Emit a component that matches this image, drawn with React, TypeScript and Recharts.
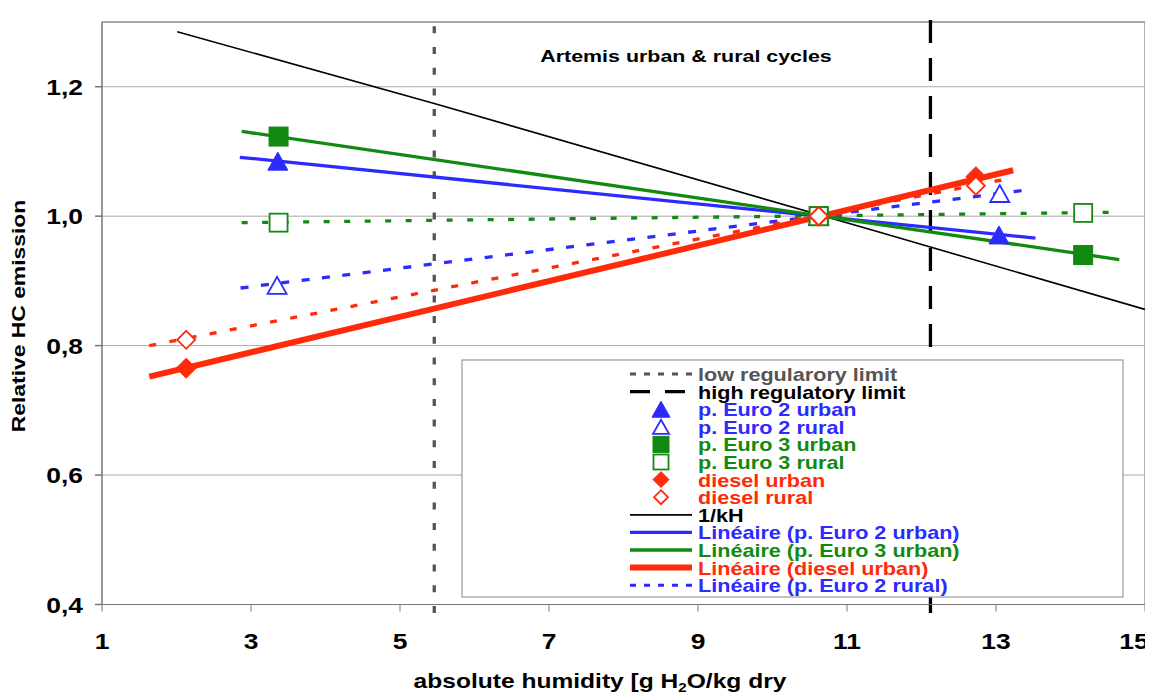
import React from "react";
import {
  ComposedChart,
  Line,
  Scatter,
  XAxis,
  YAxis,
  CartesianGrid,
  ReferenceLine,
} from "recharts";

type Pt = { x: number; y: number };

const xTicks = [1, 3, 5, 7, 9, 11, 13, 15];
const yTicks = [0.4, 0.6, 0.8, 1.0, 1.2];

// measured points (relative HC emission vs absolute humidity)
const euro2Urban: Pt[] = [
  { x: 3.36, y: 1.085 },
  { x: 10.62, y: 1.0 },
  { x: 13.04, y: 0.971 },
];
const euro2Rural: Pt[] = [
  { x: 3.35, y: 0.893 },
  { x: 10.62, y: 1.0 },
  { x: 13.05, y: 1.035 },
];
const euro3Urban: Pt[] = [
  { x: 3.37, y: 1.123 },
  { x: 10.62, y: 1.0 },
  { x: 14.17, y: 0.94 },
];
const euro3Rural: Pt[] = [
  { x: 3.37, y: 0.99 },
  { x: 10.62, y: 1.0 },
  { x: 14.17, y: 1.005 },
];
const dieselUrban: Pt[] = [
  { x: 2.13, y: 0.765 },
  { x: 10.62, y: 1.0 },
  { x: 12.73, y: 1.061 },
];
const dieselRural: Pt[] = [
  { x: 2.13, y: 0.809 },
  { x: 10.62, y: 1.0 },
  { x: 12.73, y: 1.047 },
];

// trend lines
const linEuro2Urban: Pt[] = [
  { x: 2.85, y: 1.091 },
  { x: 13.53, y: 0.966 },
];
const linEuro3Urban: Pt[] = [
  { x: 2.875, y: 1.131 },
  { x: 14.655, y: 0.933 },
];
const linDieselUrban: Pt[] = [
  { x: 1.635, y: 0.752 },
  { x: 13.23, y: 1.071 },
];
const linEuro2Rural: Pt[] = [
  { x: 2.86, y: 0.889 },
  { x: 13.39, y: 1.04 },
];
const linEuro3Rural: Pt[] = [
  { x: 2.875, y: 0.99 },
  { x: 14.6, y: 1.006 },
];
const linDieselRural: Pt[] = [
  { x: 1.635, y: 0.8 },
  { x: 13.13, y: 1.057 },
];
const invKH: Pt[] = [
  { x: 2.01, y: 1.285 },
  { x: 5.46, y: 1.174 },
  { x: 11.44, y: 0.975 },
  { x: 15, y: 0.856 },
];

const lowLimit = 5.46;
const highLimit = 12.12;

const BLUE = "#2b2bff";
const GREEN = "#128a12";
const RED = "#ff2a0a";
const GRAY = "#555555";
const FONT = "'Liberation Sans', Arial, sans-serif";

type Kind = "tri" | "sq" | "dia";

function Marker({ cx, cy, kind, color, filled, s }: { cx: number; cy: number; kind: Kind; color: string; filled: boolean; s: number }) {
  const h = s / 2;
  const fill = filled ? color : "#ffffff";
  const sw = filled ? 1 : 1.8;
  if (kind === "tri") {
    return <polygon points={`${cx},${cy - h} ${cx + h + 1},${cy + h} ${cx - h - 1},${cy + h}`} fill={fill} stroke={color} strokeWidth={sw} />;
  }
  if (kind === "sq") {
    return <rect x={cx - h} y={cy - h} width={s} height={s} fill={fill} stroke={color} strokeWidth={sw} />;
  }
  return <polygon points={`${cx},${cy - h} ${cx + h},${cy} ${cx},${cy + h} ${cx - h},${cy}`} fill={fill} stroke={color} strokeWidth={sw} />;
}

const shape = (kind: Kind, color: string, filled: boolean, s: number) => (p: any) =>
  <Marker cx={p.cx} cy={p.cy} kind={kind} color={color} filled={filled} s={s} />;

const XTick = ({ x, y, payload }: any) => {
  // last label is pulled in so it stays inside the page
  const shift = payload.value === 15 ? -11 : 0;
  return (
    <g transform={`translate(${x + shift},${y + 35.5}) scale(1.2,1)`}>
      <text x={0} y={0} textAnchor="middle" fontFamily={FONT} fontWeight="bold" fontSize={22} fill="#000">
        {payload.value}
      </text>
    </g>
  );
};

const YTick = ({ x, y, payload }: any) => (
  <g transform={`translate(${x},${y + 8}) scale(1.2,1)`}>
    <text x={0} y={0} textAnchor="end" fontFamily={FONT} fontWeight="bold" fontSize={22} fill="#000">
      {payload.value.toFixed(1).replace(".", ",")}
    </text>
  </g>
);

type LegendItem = { label: string; color: string; sample: string };
const legendItems: LegendItem[] = [
  { label: "low regularory limit", color: GRAY, sample: "low" },
  { label: "high regulatory limit", color: "#000", sample: "high" },
  { label: "p. Euro 2 urban", color: BLUE, sample: "triF" },
  { label: "p. Euro 2 rural", color: BLUE, sample: "triO" },
  { label: "p. Euro 3 urban", color: GREEN, sample: "sqF" },
  { label: "p. Euro 3 rural", color: GREEN, sample: "sqO" },
  { label: "diesel urban", color: RED, sample: "diaF" },
  { label: "diesel rural", color: RED, sample: "diaO" },
  { label: "1/kH", color: "#000", sample: "kh" },
  { label: "Linéaire (p. Euro 2 urban)", color: BLUE, sample: "lin" },
  { label: "Linéaire (p. Euro 3 urban)", color: GREEN, sample: "lin" },
  { label: "Linéaire (diesel urban)", color: RED, sample: "linThick" },
  { label: "Linéaire (p. Euro 2 rural)", color: BLUE, sample: "dot" },
];

function LegendSample({ item, cy }: { item: LegendItem; cy: number }) {
  const x1 = 622;
  const x2 = 684;
  const mx = 653;
  switch (item.sample) {
    case "low":
      return <line x1={x1} x2={x2} y1={cy} y2={cy} stroke={GRAY} strokeWidth={3} strokeDasharray="6 8" />;
    case "high":
      return <line x1={x1} x2={x2} y1={cy} y2={cy} stroke="#000" strokeWidth={3.3} strokeDasharray="20 15" />;
    case "triF":
      return <Marker cx={mx} cy={cy} kind="tri" color={BLUE} filled s={16} />;
    case "triO":
      return <Marker cx={mx} cy={cy} kind="tri" color={BLUE} filled={false} s={14} />;
    case "sqF":
      return <Marker cx={mx} cy={cy} kind="sq" color={GREEN} filled s={16} />;
    case "sqO":
      return <Marker cx={mx} cy={cy} kind="sq" color={GREEN} filled={false} s={15} />;
    case "diaF":
      return <Marker cx={mx} cy={cy} kind="dia" color={RED} filled s={16} />;
    case "diaO":
      return <Marker cx={mx} cy={cy} kind="dia" color={RED} filled={false} s={14} />;
    case "kh":
      return <line x1={x1} x2={x2} y1={cy} y2={cy} stroke="#000" strokeWidth={1.8} />;
    case "lin":
      return <line x1={x1} x2={x2} y1={cy} y2={cy} stroke={item.color} strokeWidth={3.3} />;
    case "linThick":
      return <line x1={x1} x2={x2} y1={cy} y2={cy} stroke={item.color} strokeWidth={6} />;
    default:
      return <line x1={x1} x2={x2} y1={cy} y2={cy} stroke={item.color} strokeWidth={3} strokeDasharray="6 8" />;
  }
}

function Overlay() {
  return (
    <svg width={1145} height={688} style={{ position: "absolute", left: 0, top: 0, pointerEvents: "none" }}>
      <defs>
        <clipPath id="lgclip">
          <rect x={454} y={352} width={661} height={237} />
        </clipPath>
      </defs>
      <g transform="translate(678,54) scale(1.26,1)">
        <text textAnchor="middle" fontFamily={FONT} fontWeight="bold" fontSize={17} fill="#000">
          Artemis urban &amp; rural cycles
        </text>
      </g>
      <g transform="translate(17,308) rotate(-90) scale(1.27,1)">
        <text textAnchor="middle" fontFamily={FONT} fontWeight="bold" fontSize={18} fill="#000">
          Relative HC emission
        </text>
      </g>
      <g transform="translate(592,680) scale(1.26,1)">
        <text textAnchor="middle" fontFamily={FONT} fontWeight="bold" fontSize={19.5} fill="#000">
          absolute humidity [g H<tspan fontSize={12} dy={4}>2</tspan>
          <tspan dy={-4}>O/kg dry</tspan>
        </text>
      </g>
      <rect x={454} y={352} width={661} height={237} fill="#fff" stroke="#999" strokeWidth={1.2} />
      <g clipPath="url(#lgclip)">
        {legendItems.map((it, i) => {
          const cy = 366 + i * 17.6;
          return (
            <g key={it.label}>
              <LegendSample item={it} cy={cy} />
              <g transform={`translate(690,${cy + 7}) scale(1.2,1)`}>
                <text fontFamily={FONT} fontWeight="bold" fontSize={18} fill={it.color}>
                  {it.label}
                </text>
              </g>
            </g>
          );
        })}
      </g>
    </svg>
  );
}

export default function App() {
  return (
    <div style={{ position: "relative", width: 1145, height: 688, background: "#fff" }}>
      <ComposedChart
        width={1145}
        height={688}
        margin={{ top: 14, right: 8, bottom: 31.5, left: 0 }}
        style={{ overflow: "visible" }}
      >
        <CartesianGrid vertical={false} stroke="#a8a8a8" strokeWidth={1} />
        <XAxis
          type="number"
          dataKey="x"
          domain={[1, 15]}
          ticks={xTicks}
          interval={0}
          height={60}
          stroke="#777"
          tickSize={7}
          tickMargin={2}
          tick={<XTick />}
        />
        <YAxis
          type="number"
          domain={[0.4, 1.3]}
          ticks={yTicks}
          interval={0}
          width={94}
          stroke="#777"
          strokeWidth={1.5}
          tickSize={7}
          tickMargin={12}
          tick={<YTick />}
        />
        <ReferenceLine y={1.3} stroke="#999" strokeWidth={1.5} />
        <ReferenceLine x={15} stroke="#999" strokeWidth={1.5} />
        <ReferenceLine
          segment={[{ x: lowLimit, y: 0.387 }, { x: lowLimit, y: 1.312 }]}
          ifOverflow="visible"
          stroke={GRAY}
          strokeWidth={3.3}
          strokeDasharray="7 13.7"
        />
        <ReferenceLine
          segment={[{ x: highLimit, y: 0.387 }, { x: highLimit, y: 1.313 }]}
          ifOverflow="visible"
          stroke="#000"
          strokeWidth={3.3}
          strokeDasharray="23 15"
        />
        <Line data={invKH} dataKey="y" type="linear" stroke="#000" strokeWidth={1.6} dot={false} isAnimationActive={false} />
        <Line data={linEuro3Rural} dataKey="y" type="linear" stroke={GREEN} strokeWidth={3.3} strokeDasharray="6 14.5" dot={false} isAnimationActive={false} />
        <Line data={linEuro2Rural} dataKey="y" type="linear" stroke={BLUE} strokeWidth={3.3} strokeDasharray="8 12.5" dot={false} isAnimationActive={false} />
        <Line data={linDieselRural} dataKey="y" type="linear" stroke={RED} strokeWidth={3.3} strokeDasharray="7 13.5" dot={false} isAnimationActive={false} />
        <Line data={linEuro2Urban} dataKey="y" type="linear" stroke={BLUE} strokeWidth={3.3} dot={false} isAnimationActive={false} />
        <Line data={linEuro3Urban} dataKey="y" type="linear" stroke={GREEN} strokeWidth={3.3} dot={false} isAnimationActive={false} />
        <Line data={linDieselUrban} dataKey="y" type="linear" stroke={RED} strokeWidth={6} dot={false} isAnimationActive={false} />
        <Scatter data={euro2Urban} dataKey="y" shape={shape("tri", BLUE, true, 18)} isAnimationActive={false} />
        <Scatter data={euro2Rural} dataKey="y" shape={shape("tri", BLUE, false, 17)} isAnimationActive={false} />
        <Scatter data={euro3Urban} dataKey="y" shape={shape("sq", GREEN, true, 19)} isAnimationActive={false} />
        <Scatter data={euro3Rural} dataKey="y" shape={shape("sq", GREEN, false, 18)} isAnimationActive={false} />
        <Scatter data={dieselUrban} dataKey="y" shape={shape("dia", RED, true, 20)} isAnimationActive={false} />
        <Scatter data={dieselRural} dataKey="y" shape={shape("dia", RED, false, 18)} isAnimationActive={false} />
      </ComposedChart>
      <Overlay />
    </div>
  );
}
